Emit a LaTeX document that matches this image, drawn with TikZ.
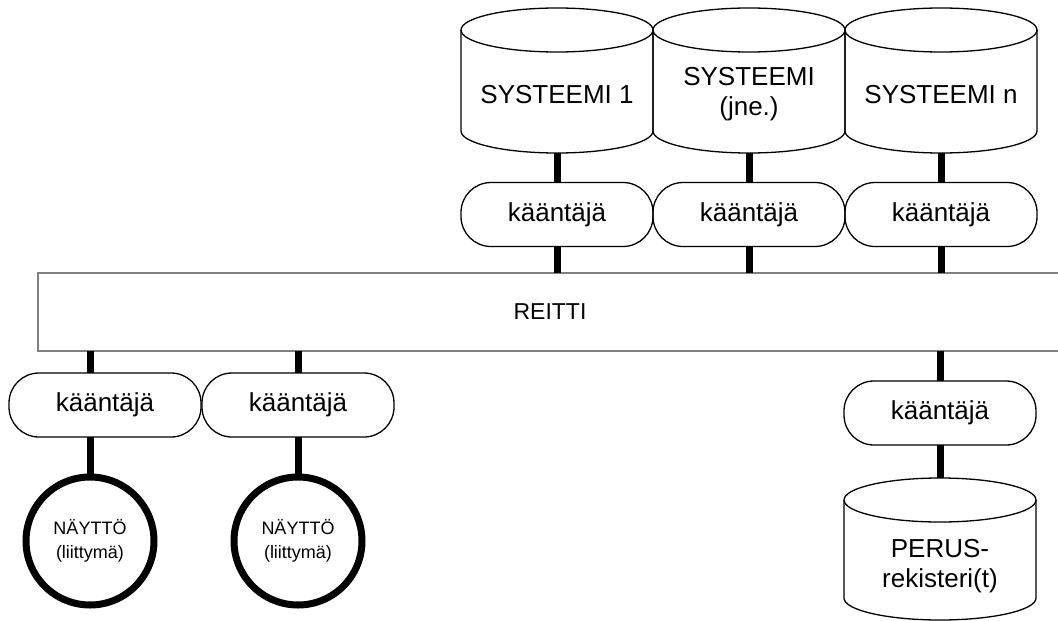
\documentclass[tikz,border=0pt]{standalone}
\usepackage{fontspec}
\setmainfont{Liberation Sans}
\newcommand{\cylshape}[4]{% name, cx, ytop, ybot
  \node[cylbox, minimum height={#4-#3}] (#1) at (#2,{(#3+#4)/2}) {};
  \draw[cylline] (#2-96,#3+22) -- (#2-96,#4-22)
     arc[start angle=180, end angle=360, x radius=96pt, y radius=22pt]
     -- (#2+96,#3+22);
  \draw[cylline] (#2,#3+22) ellipse [x radius=96pt, y radius=22pt];
}
\begin{document}
\begin{tikzpicture}[x=1pt,y=-1pt,
  conn/.style={line width=7pt},
  cylline/.style={line width=1.3pt, line join=round},
  cylbox/.style={minimum width=192pt, inner sep=0pt, outer sep=0pt},
  bigtext/.style={font=\fontsize{26}{30}\selectfont, align=center},
  kbox/.style={draw, line width=1.3pt, rounded corners=30pt, minimum width=192pt,
     minimum height=64pt, inner sep=0pt, outer sep=0pt, font=\fontsize{26}{30}\selectfont},
  disp/.style={draw, circle, line width=7pt, minimum size=128pt, inner sep=0pt,
     align=center, font=\fontsize{18}{24}\selectfont},
  route/.style={draw=black!50, line width=1.6pt, minimum width=1024pt, minimum height=78pt,
     inner sep=0pt, outer sep=0pt, font=\fontsize{23}{27}\selectfont}
]
\useasboundingbox (0,0) rectangle (1058,621);

% top systems
\cylshape{s1}{557}{8}{153}
\cylshape{s2}{749}{8}{153}
\cylshape{s3}{941}{8}{153}
\node[bigtext] (s1t) at (557,95) {SYSTEEMI 1};
\node[bigtext] (s2t) at (749,94) {SYSTEEMI\\(jne.)};
\node[bigtext] (s3t) at (941,95) {SYSTEEMI n};

% top translators
\node[kbox] (k1) at (557,214.5) {kääntäjä};
\node[kbox] (k2) at (749,214.5) {kääntäjä};
\node[kbox] (k3) at (941,214.5) {kääntäjä};

% route
\node[route] (reitti) at (550,312) {REITTI};

% bottom translators
\node[kbox] (k4) at (105,405) {kääntäjä};
\node[kbox] (k5) at (298,405) {kääntäjä};
\node[kbox] (k6) at (940,413) {kääntäjä};

% displays
\node[disp] (n1) at (90,541) {NÄYTTÖ\\(liittymä)};
\node[disp] (n2) at (298,541) {NÄYTTÖ\\(liittymä)};

% base register
\cylshape{p}{940}{478}{620}
\node[bigtext] (pt) at (940,566) {PERUS-\\rekisteri(t)};

% connectors
\draw[conn] (s1.south) -- (k1.north);
\draw[conn] (s2.south) -- (k2.north);
\draw[conn] (s3.south) -- (k3.north);
\draw[conn] (k1.south) -- (k1.south |- reitti.north);
\draw[conn] (k2.south) -- (k2.south |- reitti.north);
\draw[conn] (k3.south) -- (k3.south |- reitti.north);
\draw[conn] (reitti.south -| n1.north) -- (k4.north -| n1.north);
\draw[conn] (k4.south -| n1.north) -- (n1.north);
\draw[conn] (reitti.south -| n2.north) -- (k5.north -| n2.north);
\draw[conn] (k5.south -| n2.north) -- (n2.north);
\draw[conn] (reitti.south -| k6.north) -- (k6.north);
\draw[conn] (k6.south) -- (p.north);
\end{tikzpicture}
\end{document}
